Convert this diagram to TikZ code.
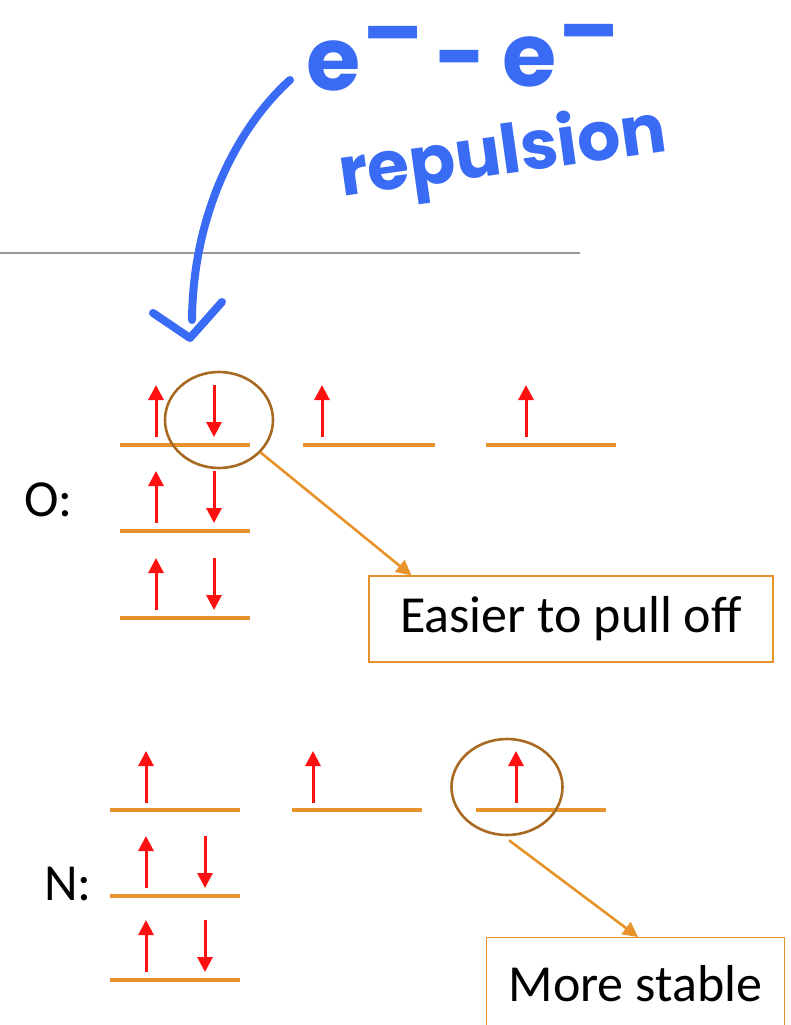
\documentclass[tikz,border=0pt]{standalone}
\usepackage{fontspec}
\setmainfont{Carlito}
\newfontfamily\handfont{Poppins}
\usetikzlibrary{arrows.meta,shapes.geometric,calc}
\definecolor{orb}{HTML}{E8922C}
\definecolor{spin}{HTML}{FF1010}
\definecolor{ring}{HTML}{A86A22}
\definecolor{pen}{HTML}{3A6BF5}
\definecolor{rulegray}{HTML}{999999}
\begin{document}
\begin{tikzpicture}[x=1pt,y=-1pt,
  level/.style={draw=orb,line width=3.4pt},
  spinarrow/.style={draw=spin,line width=3pt,-{Triangle[length=15pt,width=15pt]}},
  ringnode/.style={ellipse,draw=ring,line width=2.6pt,inner sep=0pt},
  callout/.style={draw=orb,line width=2.6pt,-{Triangle[length=15pt,width=15pt]}},
  labelbox/.style={draw=orb,line width=1.3pt,font=\fontsize{52}{52}\selectfont,inner sep=0pt},
  atomlabel/.style={font=\fontsize{52}{52}\selectfont,inner sep=0pt},
  handtext/.style={text=pen,font=\fontsize{88}{88}\handfont\bfseries,inner sep=0pt},
  penstroke/.style={draw=pen,line width=8pt,line cap=round,line join=round}]
\useasboundingbox (0,0) rectangle (790,1025);

% separator
\draw[rulegray,line width=1.2pt] (0,253) -- (580,253);

% handwritten note
\node[handtext,anchor=base west] (ee) at (306,90)
  {e\kern2pt\raisebox{0.3em}{–}\kern12pt\raisebox{0.03em}{-}\kern16pt\raisebox{0.04em}{e}\kern2pt\raisebox{0.32em}{–}};
\node[handtext,font=\fontsize{68}{68}\handfont\bfseries,rotate=8] (rep) at (503,156) {repulsion};
\coordinate (penstart) at (290,80);
\coordinate (pentip) at (190,338);
\draw[penstroke] (penstart) .. controls (240,125) and (193,210) .. (192,320);
\draw[penstroke] (153,313) -- (pentip) -- (222,302);

% ---------- O ----------
\node[atomlabel,anchor=west] (Olab) at (24,500) {O:};
\draw[level] (120,445) -- (250,445);
\draw[level] (303,445) -- (435,445);
\draw[level] (486,445) -- (616,445);
\draw[level] (120,531) -- (250,531);
\draw[level] (120,618) -- (250,618);
\draw[spinarrow] (156,437) -- (156,385);
\draw[spinarrow] (214,385) -- (214,437);
\draw[spinarrow] (322,437) -- (322,385);
\draw[spinarrow] (526,437) -- (526,385);
\foreach \y in {531,618}{
  \draw[spinarrow] (156,\y-8) -- (156,\y-60);
  \draw[spinarrow] (214,\y-60) -- (214,\y-8);
}
\node[ringnode,minimum width=108pt,minimum height=96pt] (circO) at (219,420) {};
\node[labelbox,minimum width=404pt,minimum height=86pt] (boxO) at (571,619) {Easier to pull off};
\draw[callout] (circO.-38) -- ($(boxO.north west)+(43,0)$);

% ---------- N ----------
\node[atomlabel,anchor=west] (Nlab) at (44,884) {N:};
\draw[level] (110,810) -- (240,810);
\draw[level] (292,810) -- (422,810);
\draw[level] (476,810) -- (606,810);
\draw[level] (110,896) -- (240,896);
\draw[level] (110,980) -- (240,980);
\draw[spinarrow] (146,803) -- (146,751);
\draw[spinarrow] (313,803) -- (313,751);
\draw[spinarrow] (516,803) -- (516,751);
\foreach \y in {896,980}{
  \draw[spinarrow] (146,\y-8) -- (146,\y-60);
  \draw[spinarrow] (205,\y-60) -- (205,\y-8);
}
\node[ringnode,minimum width=111pt,minimum height=96pt] (circN) at (507,787) {};
\node[labelbox,anchor=north west,minimum height=92pt,inner xsep=22pt] (boxN) at (486,937) {More stable\hspace{40pt}};
\draw[callout] ($(circN.south)+(2,4)$) -- ($(boxN.north west)+(152,0)$);
\end{tikzpicture}
\end{document}
